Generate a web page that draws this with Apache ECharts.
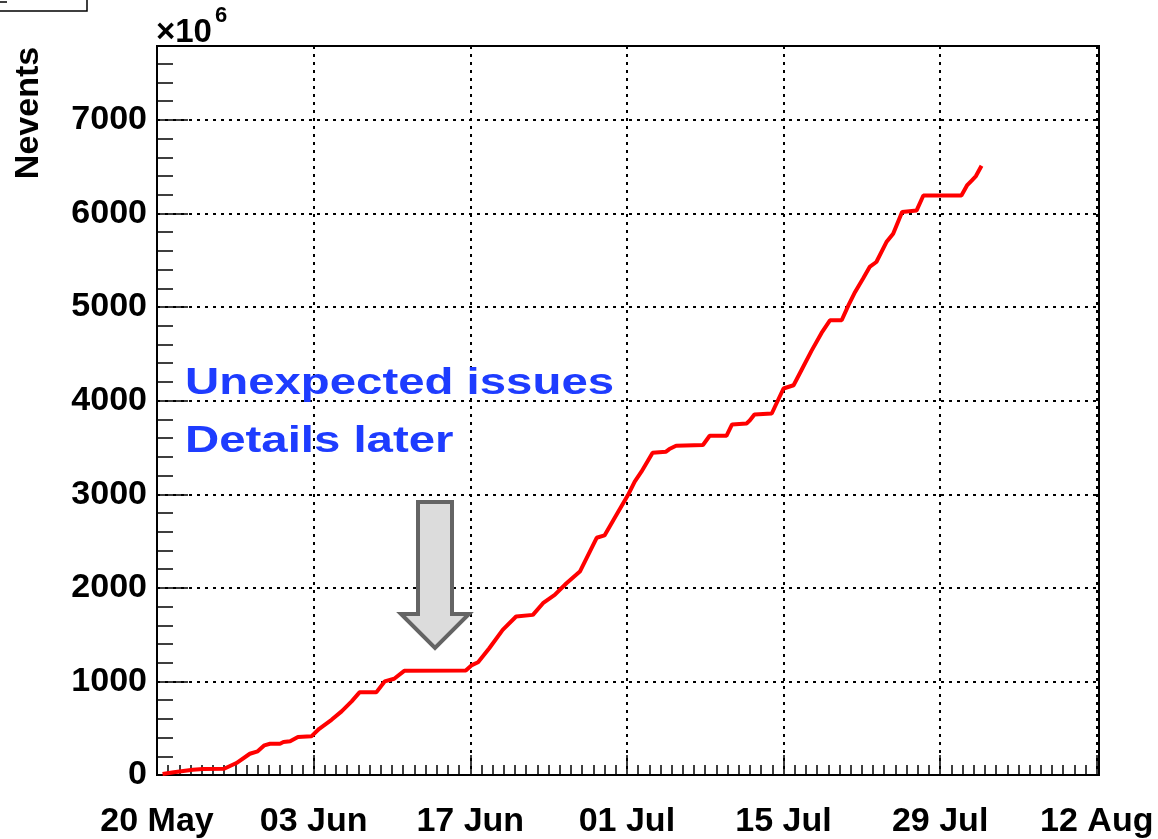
<!DOCTYPE html>
<html>
<head>
<meta charset="utf-8">
<script src="https://cdn.jsdelivr.net/npm/echarts@6/dist/echarts.min.js"></script>
<style>
html,body{margin:0;padding:0;background:#fff;}
#chart{width:1158px;height:839px;}
</style>
</head>
<body>
<div id="chart"></div>
<script>
// Days since 20 May (00:00)
const days = [0.5, 1.5, 3.2, 4.1, 6.0, 7.1, 8.3, 9.0, 9.6, 10.1, 11.0, 11.3, 11.9, 12.6, 13.8,
  14.5, 15.6, 16.5, 17.4, 18.1, 19.6, 20.35, 21.2, 22.1, 27.6, 28.1, 28.7, 29.7, 30.9, 32.1,
  33.6, 34.5, 35.55, 36.6, 37.8, 39.3, 40.0, 40.8, 41.5, 42.1, 42.7, 43.3, 44.3, 45.5, 45.8,
  46.4, 48.8, 49.4, 50.9, 51.4, 52.7, 53.0, 53.4, 54.95, 56.0, 56.9, 57.6, 58.5, 59.4, 60.15,
  61.2, 61.8, 62.4, 63.1, 63.7, 64.3, 65.2, 65.8, 66.6, 67.9, 68.5, 71.9, 72.4, 72.8, 73.2, 73.7];
// Cumulative number of events (x10^6)
const nevents = [10, 30, 57, 65, 67, 128, 227, 253, 317, 334, 334, 352, 360, 405, 413,
  494, 590, 680, 787, 883, 883, 1000, 1028, 1113, 1117, 1171, 1205, 1355, 1551, 1694,
  1711, 1836, 1924, 2049, 2174, 2535, 2560, 2725, 2868, 2991, 3134, 3241, 3444, 3455, 3483,
  3519, 3526, 3625, 3625, 3746, 3757, 3790, 3853, 3863, 4130, 4165, 4325, 4532, 4724, 4859,
  4859, 5019, 5162, 5304, 5429, 5482, 5695, 5784, 6016, 6033, 6193, 6193, 6300, 6350, 6400, 6510];
const xTickLabels = ['20 May', '03 Jun', '17 Jun', '01 Jul', '15 Jul', '29 Jul', '12 Aug'];
const xMax = 84.2, xStep = 14;
const yMax = 7790, yStep = 1000;
const annotationLines = ['Unexpected issues', 'Details later'];

const chart = echarts.init(document.getElementById('chart'), null, {renderer: 'canvas'});
const FONT = 'Liberation Sans, Arial, Helvetica, sans-serif';
const gridLine = {show: true, lineStyle: {color: '#000', width: 2, type: [3, 5]}};

const option = {
  animation: false,
  backgroundColor: '#fff',
  grid: {left: 157, top: 46, right: 59, bottom: 62, show: true, borderColor: '#000', borderWidth: 2, backgroundColor: 'transparent'},
  xAxis: [{
    type: 'value', min: 0, max: xMax, interval: xStep, position: 'bottom',
    axisLine: {show: true, onZero: false, lineStyle: {color: '#000', width: 2}},
    axisTick: {show: true, inside: true, length: 20, lineStyle: {color: '#000', width: 1.5}},
    axisLabel: {show: true, margin: 30, color: '#000', fontSize: 34, fontWeight: 'bold', fontFamily: FONT,
      formatter: v => (Math.abs(v % xStep) < 1e-9 ? xTickLabels[Math.round(v / xStep)] || '' : '')},
    splitLine: gridLine
  }, {
    type: 'value', min: 0, max: xMax, interval: 1, position: 'bottom',
    axisLine: {show: false, onZero: false},
    axisTick: {show: true, inside: true, length: 10, lineStyle: {color: '#000', width: 1.5}},
    axisLabel: {show: false}, splitLine: {show: false}
  }],
  yAxis: [{
    type: 'value', min: 0, max: yMax, interval: yStep, position: 'left',
    axisLine: {show: true, onZero: false, lineStyle: {color: '#000', width: 2}},
    axisTick: {show: true, inside: true, length: 31, lineStyle: {color: '#000', width: 1.5}},
    axisLabel: {show: true, margin: 10, color: '#000', fontSize: 34, fontWeight: 'bold', fontFamily: FONT,
      formatter: v => (Math.abs(v % yStep) < 1e-9 ? String(v) : '')},
    splitLine: gridLine
  }, {
    type: 'value', min: 0, max: yMax, interval: 200, position: 'left',
    axisLine: {show: false, onZero: false},
    axisTick: {show: true, inside: true, length: 16, lineStyle: {color: '#000', width: 1.5}},
    axisLabel: {show: false}, splitLine: {show: false}
  }],
  series: [{
    type: 'line', xAxisIndex: 0, yAxisIndex: 0,
    data: days.map((d, i) => [d, nevents[i]]),
    showSymbol: false, symbol: 'none',
    lineStyle: {color: '#ff0000', width: 4},
    z: 5
  }],
  graphic: [
    {type: 'rect', shape: {x: -2, y: -2, width: 89, height: 13}, style: {fill: '#fff', stroke: '#000', lineWidth: 1.5}, z: 10},
    {type: 'line', shape: {x1: 0, y1: 2, x2: 7, y2: 2}, style: {stroke: '#000', lineWidth: 1.5}, z: 10},
    {type: 'text', x: 29, y: 113, rotation: Math.PI / 2,
      style: {text: 'Nevents', x: 0, y: 0, textAlign: 'center', textVerticalAlign: 'middle', fill: '#000',
        font: 'bold 34px ' + FONT}, z: 10},
    {type: 'text', x: 156, y: 33,
      style: {text: '×10', x: 0, y: 0, textAlign: 'left', textVerticalAlign: 'middle', fill: '#000',
        font: 'bold 33px ' + FONT}, z: 10},
    {type: 'text', x: 215, y: 16,
      style: {text: '6', x: 0, y: 0, textAlign: 'left', textVerticalAlign: 'middle', fill: '#000',
        font: 'bold 22px ' + FONT}, z: 10},
    {type: 'text', x: 185, y: 384, scaleX: 1.28,
      style: {text: annotationLines[0], x: 0, y: 0, textAlign: 'left', textVerticalAlign: 'middle', fill: '#1e3cff',
        font: 'bold 37px ' + FONT}, z: 10},
    {type: 'text', x: 185, y: 442, scaleX: 1.28,
      style: {text: annotationLines[1], x: 0, y: 0, textAlign: 'left', textVerticalAlign: 'middle', fill: '#1e3cff',
        font: 'bold 37px ' + FONT}, z: 10},
    {type: 'polygon',
      shape: {points: [[418, 502], [452, 502], [452, 614], [469, 614], [435, 648], [401, 614], [418, 614]]},
      style: {fill: '#dcdcdc', stroke: '#646464', lineWidth: 4, lineJoin: 'miter'}, z: 10}
  ]
};
chart.setOption(option);
</script>
</body>
</html>
